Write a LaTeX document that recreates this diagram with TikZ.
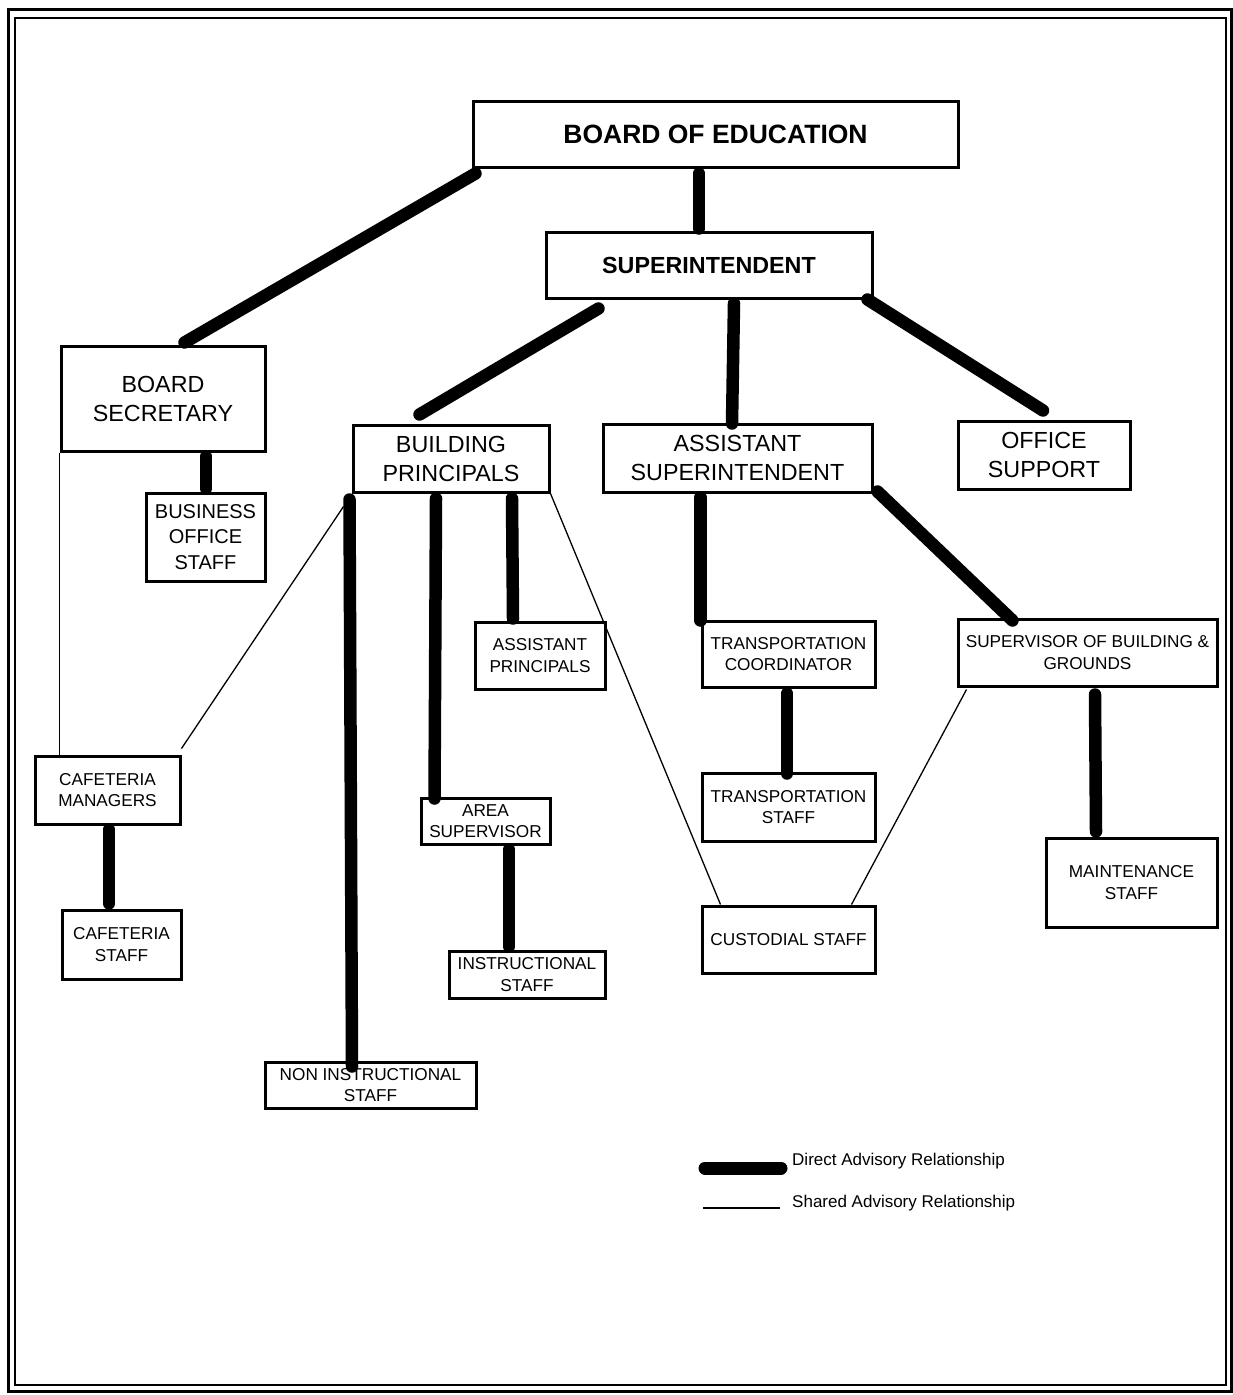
\documentclass[tikz,border=0pt]{standalone}
\usepackage{fontspec}
\setmainfont{Liberation Sans}
\usetikzlibrary{calc}
\tikzset{
  unit/.style={draw=black,line width=3pt,align=center,inner sep=2pt},
  headbox/.style={unit,font=\fontsize{26.5}{31}\selectfont\bfseries},
  bigbox/.style={unit,font=\fontsize{23.3}{29}\selectfont},
  midbox/.style={unit,font=\fontsize{20}{25.5}\selectfont},
  smallbox/.style={unit,font=\fontsize{17.2}{21.5}\selectfont},
  direct/.style={line width=12.5pt,line cap=round},
  shared/.style={line width=1.3pt},
  legendtext/.style={font=\fontsize{17}{20}\selectfont,anchor=base west,inner sep=0pt},
}

\begin{document}
\begin{tikzpicture}[x=1pt,y=-1pt]
  \useasboundingbox (0,0) rectangle (1233,1395);
  % double frame
  \draw[line width=3pt] (8,9) rectangle (1231,1391);
  \draw[line width=2.4pt] (15,18) rectangle (1226,1385);

  % boxes
  \node[headbox,minimum width=485pt,minimum height=66pt] (boe) at (715.5,134) {BOARD OF EDUCATION};
  \node[headbox,font=\fontsize{23.3}{27}\selectfont\bfseries,minimum width=326pt,minimum height=66pt] (sup) at (709,265) {SUPERINTENDENT};
  \node[bigbox,minimum width=204pt,minimum height=105pt] (bsec) at (163,398.5) {BOARD\\SECRETARY};
  \node[midbox,minimum width=119pt,minimum height=88pt] (bos) at (205.5,537) {BUSINESS\\OFFICE\\STAFF};
  \node[bigbox,minimum width=196pt,minimum height=67pt] (bp) at (451,458.5) {BUILDING\\PRINCIPALS};
  \node[bigbox,minimum width=269pt,minimum height=68pt] (asup) at (737.5,458) {ASSISTANT\\SUPERINTENDENT};
  \node[bigbox,minimum width=172pt,minimum height=68pt] (osup) at (1044,455) {OFFICE\\SUPPORT};
  \node[smallbox,minimum width=130pt,minimum height=67pt] (ap) at (540,655.5) {ASSISTANT\\PRINCIPALS};
  \node[smallbox,minimum width=173pt,minimum height=66pt] (tc) at (788.5,654) {TRANSPORTATION\\COORDINATOR};
  \node[smallbox,minimum width=259pt,minimum height=67pt] (sbg) at (1087.5,652.5) {SUPERVISOR OF BUILDING \&\\GROUNDS};
  \node[smallbox,minimum width=145pt,minimum height=68pt] (cm) at (107.5,790) {CAFETERIA\\MANAGERS};
  \node[smallbox,minimum width=129pt,minimum height=46pt] (area) at (485.5,821) {AREA\\SUPERVISOR};
  \node[smallbox,minimum width=173pt,minimum height=68pt] (ts) at (788.5,807) {TRANSPORTATION\\STAFF};
  \node[smallbox,minimum width=171pt,minimum height=89pt] (ms) at (1131.5,882.5) {MAINTENANCE\\STAFF};
  \node[smallbox,minimum width=119pt,minimum height=69pt] (cs) at (121.5,944.5) {CAFETERIA\\STAFF};
  \node[smallbox,minimum width=156pt,minimum height=47pt] (is) at (527,974.5) {INSTRUCTIONAL\\STAFF};
  \node[smallbox,minimum width=173pt,minimum height=67pt] (cust) at (788.5,939.5) {CUSTODIAL STAFF};
  \node[smallbox,minimum width=211pt,minimum height=46pt] (nis) at (370.5,1085) {NON INSTRUCTIONAL\\STAFF};

  % direct advisory lines
  \draw[direct] ($(boe.south west)+(4,5)$) -- ($(bsec.north west)+(125,-2)$);
  \draw[direct] ($(boe.south)+(-16.5,5)$) -- ($(sup.north)+(-10,-2)$);
  \draw[direct] ($(sup.south west)+(54,9)$) -- ($(bp.north west)+(68,-9)$);
  \draw[direct] ($(sup.south)+(25,4)$) -- ($(asup.north)+(-5.5,1)$);
  \draw[direct] ($(sup.south east)+(-6,0)$) -- ($(osup.north)+(-1,-9)$);
  \draw[direct] ($(bsec.south)+(43,4)$) -- ($(bos.north)+(0.5,-3)$);
  \draw[direct] ($(bp.south west)+(-2,6)$) -- ($(nis.north)+(-18.5,6)$);
  \draw[direct] ($(bp.south)+(-15,5)$) -- ($(area.north west)+(15,2)$);
  \draw[direct] ($(bp.south)+(61,5)$) -- ($(ap.north)+(-27,-2)$);
  \draw[direct] ($(asup.south west)+(99,4)$) -- ($(tc.north west)+(0,1)$);
  \draw[direct] ($(asup.south east)+(4,-2)$) -- ($(sbg.north west)+(56,3)$);
  \draw[direct] ($(tc.south)+(-1.5,5)$) -- ($(ts.north)+(-1.5,2)$);
  \draw[direct] ($(sbg.south)+(7.5,7)$) -- ($(ms.north)+(-35.5,-5)$);
  \draw[direct] ($(cm.south)+(1.5,4)$) -- ($(cs.north)+(-12.5,-5)$);
  \draw[direct] ($(area.south)+(23.5,4)$) -- ($(is.north)+(-18,-3)$);

  % shared advisory lines
  \draw[shared] (bsec.south west) -- ($(cm.north west)+(26,0)$);
  \draw[shared] ($(bp.south west)+(-8,13)$) -- ($(cm.north east)+(0,-6)$);
  \draw[shared] (bp.south east) -- ($(cust.north west)+(20,0)$);
  \draw[shared] ($(sbg.south west)+(10,2)$) -- ($(cust.north east)+(-25,0)$);

  % legend
  \node[legendtext] (ldirect) at (792,1165) {Direct Advisory Relationship};
  \node[legendtext] (lshared) at (792,1207) {Shared Advisory Relationship};
  \coordinate (d1) at (705,1168);
  \coordinate (d2) at (781,1168);
  \coordinate (s1) at (703,1208);
  \coordinate (s2) at (780,1208);
  \draw[direct,line width=13pt] (d1) -- (d2);
  \draw[shared] (s1) -- (s2);
\end{tikzpicture}
\end{document}
